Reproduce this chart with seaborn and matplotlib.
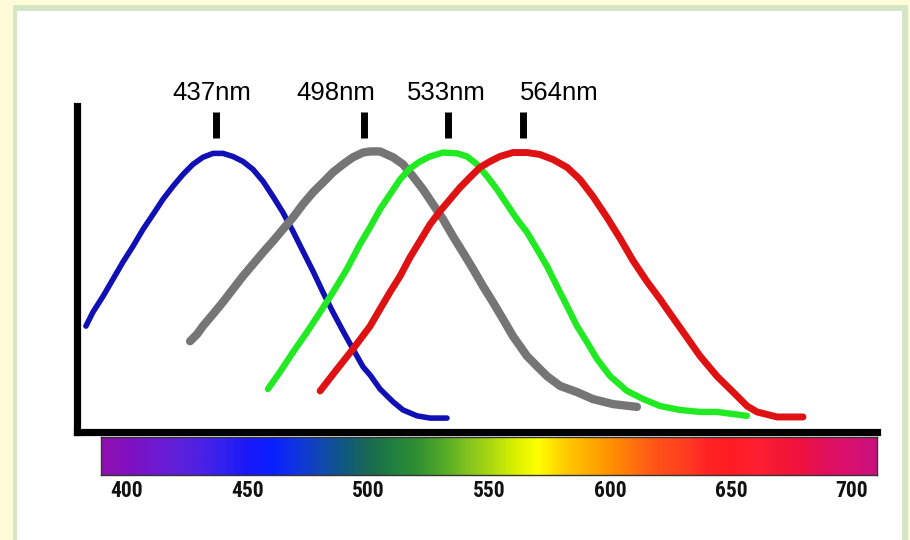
import numpy as np
import pandas as pd
import matplotlib
matplotlib.use("Agg")
import matplotlib.pyplot as plt
from matplotlib.patches import Rectangle
from matplotlib.colors import LinearSegmentedColormap, Normalize
import seaborn as sns

# ---------------- data ----------------
blue_nm = [383.0, 385.9, 390.1, 394.2, 398.3, 402.5, 406.6, 410.8, 414.9, 419.0,
           423.2, 427.3, 431.4, 435.6, 439.7, 443.8, 448.0, 452.1, 456.3, 460.4,
           464.5, 468.7, 472.8, 477.0, 481.1, 485.2, 489.4, 493.5, 497.7, 500.6,
           504.7, 510.1, 514.2, 520.0, 525.4, 532.4]
blue_val = [0.375, 0.425, 0.482, 0.543, 0.604, 0.661, 0.721, 0.775, 0.829, 0.875,
            0.918, 0.954, 0.979, 0.993, 0.993, 0.982, 0.964, 0.936, 0.893, 0.839,
            0.782, 0.714, 0.643, 0.571, 0.496, 0.425, 0.357, 0.293, 0.229, 0.200,
            0.150, 0.104, 0.075, 0.054, 0.046, 0.046]

gray_nm = [426.1, 429.0, 431.4, 435.6, 439.7, 443.8, 448.0, 452.1, 456.3, 460.4,
           464.5, 468.7, 472.8, 477.0, 481.1, 485.2, 489.4, 493.5, 497.7, 500.6,
           504.7, 510.1, 514.2, 518.3, 522.5, 526.6, 530.8, 534.9, 539.0, 543.2,
           547.3, 551.4, 555.6, 559.7, 565.5, 569.6, 573.8, 579.2, 586.2, 592.8,
           601.1, 611.0]
gray_val = [0.321, 0.346, 0.375, 0.418, 0.461, 0.507, 0.554, 0.596, 0.639, 0.679,
            0.721, 0.764, 0.811, 0.854, 0.889, 0.925, 0.954, 0.979, 0.996, 1.000,
            1.000, 0.979, 0.954, 0.911, 0.864, 0.811, 0.757, 0.696, 0.639, 0.579,
            0.518, 0.461, 0.400, 0.339, 0.268, 0.232, 0.196, 0.161, 0.139, 0.114,
            0.096, 0.086]

green_nm = [458.3, 463.3, 468.7, 474.5, 479.9, 485.2, 491.0, 496.4, 500.6, 504.7,
            508.8, 513.0, 517.1, 521.2, 525.4, 530.8, 536.6, 540.7, 544.8, 549.0,
            553.1, 557.2, 561.4, 565.5, 569.7, 573.8, 577.9, 582.1, 586.2, 590.3,
            594.5, 599.9, 606.9, 613.6, 620.6, 628.9, 637.1, 644.1, 656.5]
green_val = [0.150, 0.211, 0.282, 0.354, 0.425, 0.496, 0.579, 0.668, 0.729, 0.793,
             0.846, 0.900, 0.939, 0.964, 0.982, 0.996, 0.993, 0.982, 0.954, 0.911,
             0.864, 0.811, 0.757, 0.711, 0.650, 0.589, 0.518, 0.446, 0.375, 0.318,
             0.257, 0.196, 0.143, 0.114, 0.089, 0.075, 0.068, 0.068, 0.054]

red_nm = [479.9, 486.9, 493.5, 500.6, 504.7, 508.8, 513.0, 517.1, 521.2, 525.4,
          529.5, 533.7, 537.8, 541.9, 546.1, 550.2, 554.3, 559.7, 565.5, 570.9,
          576.3, 582.1, 587.4, 592.8, 598.6, 604.0, 609.4, 615.2, 620.6, 623.4,
          630.1, 637.1, 644.1, 650.8, 656.6, 660.7, 669.0, 679.7]
red_val = [0.143, 0.221, 0.293, 0.375, 0.436, 0.496, 0.554, 0.621, 0.679, 0.739,
           0.786, 0.829, 0.871, 0.907, 0.943, 0.964, 0.982, 0.996, 0.996, 0.989,
           0.971, 0.943, 0.900, 0.839, 0.764, 0.689, 0.609, 0.534, 0.471, 0.436,
           0.354, 0.268, 0.196, 0.139, 0.089, 0.068, 0.050, 0.050]

peak_nm = [437, 498, 533, 564]
peak_labels = ["437nm", "498nm", "533nm", "564nm"]
label_left_nm = [418.6, 470.0, 516.0, 562.6]

spectrum_ticks = [400, 450, 500, 550, 600, 650, 700]
spectrum_minor = list(range(400, 701, 10))

spectrum_nm = [389, 400, 410, 420, 430, 440, 450, 460, 470, 480, 490, 500, 510,
               520, 530, 540, 550, 560, 570, 580, 590, 600, 610, 620, 630, 640,
               650, 660, 670, 680, 690, 700, 711]
spectrum_col = ["#9010b0", "#8010c0", "#7018d0", "#6020d8", "#4c20e4", "#3020f0",
                "#1818fa", "#0a20ff", "#1034e0", "#1048b0", "#105a80", "#1a6a50",
                "#208040", "#309030", "#50a828", "#80c020", "#a8d810", "#d8f000",
                "#ffff00", "#ffd000", "#ffb000", "#ff9000", "#ff7010", "#ff5018",
                "#ff4020", "#ff2424", "#ff1c22", "#ff2030", "#f51835", "#f01040",
                "#e01060", "#d81070", "#c81080"]

series = [
    ("blue", blue_nm, blue_val, "#1010b4", 4.0),
    ("gray", gray_nm, gray_val, "#757575", 6.0),
    ("green", green_nm, green_val, "#22ea22", 4.6),
    ("red", red_nm, red_val, "#de1212", 5.0),
]

# ---------------- figure ----------------
sns.set_style("white")
plt.rcParams["font.family"] = ["Liberation Sans", "DejaVu Sans"]

W, H = 910, 540
fig = plt.figure(figsize=(W / 100, H / 100), dpi=100)
fig.patch.set_facecolor("#fefbd8")


def fx(px):
    return px / W


def fy(py):
    return 1 - py / H


# frame
fig.patches.append(Rectangle((fx(13), 0), fx(908) - fx(13), fy(5), transform=fig.transFigure,
                             facecolor="#d5e5c6", edgecolor="none", zorder=-10))
fig.patches.append(Rectangle((fx(17), 0), fx(902) - fx(17), fy(11), transform=fig.transFigure,
                             facecolor="white", edgecolor="none", zorder=-9))

# pixel -> nm mapping used for layout
px400, ppn = 127.0, 2.4167


def nm_at(px):
    return 400 + (px - px400) / ppn


# main axes
ax_l, ax_r, ax_t, ax_b = 77, 876.5, 106.5, 431.5
ax = fig.add_axes([fx(ax_l), fy(ax_b), fx(ax_r) - fx(ax_l), fy(ax_t) - fy(ax_b)])
ax.set_facecolor("none")
unit = 280.0
ax.set_xlim(nm_at(ax_l), nm_at(ax_r))
ax.set_ylim(-0.002, (ax_b - ax_t) / unit)

for name, xs, ys, col, lw in series:
    df = pd.DataFrame({"nm": xs, "val": ys})
    sns.lineplot(data=df, x="nm", y="val", ax=ax, color=col, linewidth=lw,
                 sort=False, estimator=None)
for ln in ax.lines:
    ln.set_solid_capstyle("round")
    ln.set_solid_joinstyle("round")

for s in ["top", "right"]:
    ax.spines[s].set_visible(False)
for s in ["left", "bottom"]:
    ax.spines[s].set_visible(True)
    ax.spines[s].set_linewidth(5.2)
    ax.spines[s].set_color("black")
    ax.spines[s].set_capstyle("projecting")
ax.set_xticks([])
ax.set_yticks([])
ax.set_xlabel("")
ax.set_ylabel("")

# peak markers and labels
ax.vlines(peak_nm, (ax_b - 138) / unit, (ax_b - 112) / unit, colors="black",
          linewidth=5.0, clip_on=False)
for lx, lab in zip(label_left_nm, peak_labels):
    ax.text(lx, (ax_b - 100) / unit, lab, ha="left", va="baseline",
            fontsize=18.5, color="black", clip_on=False)

# spectrum bar
cb_l, cb_r, cb_t, cb_b = 101, 877, 437, 475
cax = fig.add_axes([fx(cb_l), fy(cb_b), fx(cb_r) - fx(cb_l), fy(cb_t) - fy(cb_b)])
lo, hi = nm_at(cb_l), nm_at(cb_r)
norm = Normalize(spectrum_nm[0], spectrum_nm[-1])
cmap = LinearSegmentedColormap.from_list(
    "spec", [(norm(v), c) for v, c in zip(spectrum_nm, spectrum_col)])
grad = np.linspace(lo, hi, 1000)[None, :]
cax.imshow(grad, extent=[lo, hi, 0, 1], aspect="auto", cmap=cmap, norm=norm,
           interpolation="bilinear")
cax.set_xlim(lo, hi)
cax.set_ylim(0, 1)
cax.set_yticks([])
cax.set_xticks(spectrum_ticks)
cax.set_xticks(spectrum_minor, minor=True)
cax.set_xticklabels([str(t) for t in spectrum_ticks])
cax.tick_params(axis="x", which="major", direction="in", length=11, width=2.2,
                color="#141414", pad=3.5)
cax.tick_params(axis="x", which="minor", direction="in", length=6, width=1.5,
                color="#1a1a1a")
for lab in cax.get_xticklabels():
    lab.set_family(["Roboto Condensed", "DejaVu Sans"])
    lab.set_fontstretch("condensed")
    lab.set_fontweight("bold")
    lab.set_fontsize(15.5)
    lab.set_color("#111111")
for s in cax.spines.values():
    s.set_visible(True)
    s.set_color("#333333")
    s.set_linewidth(1.0)

fig.savefig("out.png", dpi=100, facecolor=fig.get_facecolor())
